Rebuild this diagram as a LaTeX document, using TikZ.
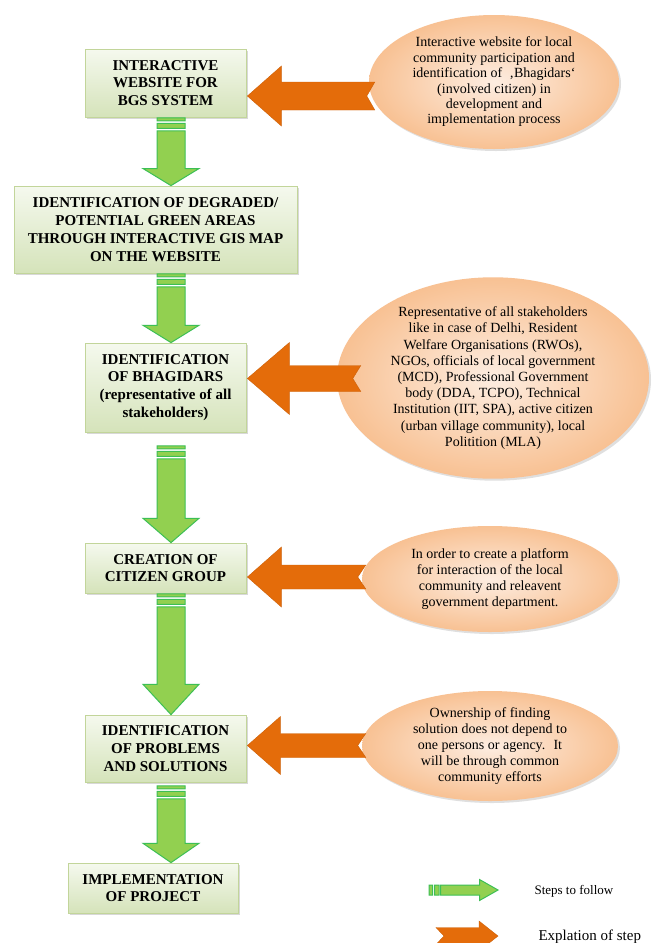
\documentclass[tikz,border=0pt]{standalone}
\usepackage{fontspec}
\setmainfont{Liberation Serif}
\usetikzlibrary{shapes.geometric,shadows,calc}

\definecolor{boxtop}{HTML}{F5F9EE}
\definecolor{boxbot}{HTML}{D5E3BA}
\definecolor{boxline}{HTML}{C2D59A}
\definecolor{stepfill}{HTML}{92D050}
\definecolor{stepline}{HTML}{3CBF55}
\definecolor{explfill}{HTML}{E46C0A}
\definecolor{ovalin}{HTML}{FDEDE1}
\definecolor{ovalout}{HTML}{F8C193}

\tikzset{
  stepbox/.style={rectangle, draw=boxline, line width=0.8pt,
    top color=boxtop, bottom color=boxbot, inner sep=0pt, align=center,
    font=\bfseries\fontsize{15}{17.8}\selectfont,
    drop shadow={shadow xshift=1.5pt, shadow yshift=-1.5pt, opacity=0.3}},
  infooval/.style={ellipse, inner sep=0pt, align=center,
    shading=radial, inner color=ovalin, outer color=ovalout,
    font=\fontsize{14}{16}\selectfont,
    drop shadow={shadow xshift=2pt, shadow yshift=-2pt, opacity=0.25}},
  stepshape/.style={fill=stepfill, draw=stepline, line width=1pt, line join=miter},
  explshape/.style={fill=explfill, draw=explfill!90!black, line width=0.4pt, line join=miter},
  legendtext/.style={anchor=west, font=\fontsize{13}{15}\selectfont}
}

% vertical step arrow with two stripes at its tail: #1 start (top), #2 tip
\newcommand\steparrow[2]{%
  \draw[stepshape] let \p1=(#1), \p2=(#2), \n1={0.25*(\y1-\y2)} in
    ({\x1-14pt},{\y1-0.5pt}) rectangle ({\x1+14pt},{\y1-3.5pt})
    ({\x1-14pt},{\y1-6pt}) rectangle ({\x1+14pt},{\y1-11pt})
    ({\x1-14pt},{\y1-13.5pt}) -- ({\x1-14pt},{\y2+\n1*1pt})
    -- ({\x1-28pt},{\y2+\n1*1pt}) -- (\x1,\y2)
    -- ({\x1+28pt},{\y2+\n1*1pt}) -- ({\x1+14pt},{\y2+\n1*1pt})
    -- ({\x1+14pt},{\y1-13.5pt}) -- cycle;}

% notched block arrow: #1 tail, #2 tip, #3 head half height,
% #4 shaft half height, #5 head length
\newcommand\explarrow[5]{%
  \draw[explshape] let \p1=(#1), \p2=(#2), \n1={(\x2-\x1)/abs(\x2-\x1)} in
    (\x1,{\y2+#4pt}) -- ({\x2-\n1*#5pt},{\y2+#4pt})
    -- ({\x2-\n1*#5pt},{\y2+#3pt}) -- (\x2,\y2)
    -- ({\x2-\n1*#5pt},{\y2-#3pt}) -- ({\x2-\n1*#5pt},{\y2-#4pt})
    -- (\x1,{\y2-#4pt}) -- ({\x1+\n1*8pt},\y2) -- cycle;}

\begin{document}
\begin{tikzpicture}[x=1pt,y=-1pt]
\useasboundingbox (0,0) rectangle (651,943);
\fill[white] (0,0) rectangle (651,943);

\coordinate (col) at (171,0);

% steps
\node[stepbox, minimum width=161, minimum height=68] (b1) at (165.5,83)
  {INTERACTIVE\\WEBSITE FOR\\BGS SYSTEM};
\node[stepbox, minimum width=283, minimum height=87] (b2) at (155.5,229.5)
  {IDENTIFICATION OF DEGRADED/\\POTENTIAL GREEN AREAS\\THROUGH INTERACTIVE GIS MAP\\ON THE WEBSITE};
\node[stepbox, minimum width=161, minimum height=89] (b3) at (165.5,387.5)
  {IDENTIFICATION\\OF BHAGIDARS\\(representative of all\\stakeholders)};
\node[stepbox, minimum width=161, minimum height=50] (b4) at (165.5,568)
  {CREATION OF\\CITIZEN GROUP};
\node[stepbox, minimum width=161, minimum height=67] (b5) at (165.5,748.5)
  {IDENTIFICATION\\OF PROBLEMS\\AND SOLUTIONS};
\node[stepbox, minimum width=170, minimum height=50] (b6) at (153,888)
  {IMPLEMENTATION\\OF PROJECT};

% explanations
\node[infooval, minimum width=250, minimum height=134,
      font=\fontsize{14}{15.4}\selectfont] (e1) at (494,82)
  {Interactive website for local\\community participation and\\identification of \ ‚Bhagidars‘\\(involved citizen) in\\development and\\implementation process};
\node[infooval, minimum width=312, minimum height=186,
      font=\fontsize{14}{16.2}\selectfont] (e2) at (493,378)
  {Representative of all stakeholders\\like in case of Delhi, Resident\\Welfare Organisations (RWOs),\\NGOs, officials of local government\\(MCD), Professional Government\\body (DDA, TCPO), Technical\\Institution (IIT, SPA), active citizen\\(urban village community), local\\Politition (MLA)};
\node[infooval, minimum width=256, minimum height=106] (e3) at (490,579)
  {In order to create a platform\\for interaction of the local\\community and releavent\\government department.};
\node[infooval, minimum width=256, minimum height=110] (e4) at (490,746)
  {Ownership of finding\\solution does not depend to\\one persons or agency. \ It\\will be through common\\community efforts};

% step arrows
\steparrow{b1.south -| col}{b2.north -| col}
\steparrow{b2.south -| col}{b3.north -| col}
\steparrow{$(b3.south -| col)+(0,13)$}{b4.north -| col}
\steparrow{b4.south -| col}{b5.north -| col}
\steparrow{$(b5.south -| col)+(0,3)$}{b6.north -| col}

% explanation arrows
\explarrow{$(e1.west)+(6,0)$}{$(b1.east)+(1,13)$}{30}{14}{34}
\explarrow{$(e2.west)+(24,0)$}{$(b3.east)+(1,-9)$}{36}{13}{42}
\explarrow{$(e3.west)+(4,0)$}{$(b4.east)+(1,9)$}{30}{12}{34}
\explarrow{$(e4.west)+(4,0)$}{$(b5.east)+(1,-3)$}{29}{12}{33}

% legend
\coordinate (lg1) at (429,890);
\coordinate (lg2) at (436,936);
\draw[stepshape] (lg1) ++(0,-5) rectangle ++(3.5,10)
  ($(lg1)+(5.5,-5)$) rectangle ++(4.5,10)
  ($(lg1)+(11.5,-5)$) -- ++(39,0) -- ++(0,-5.5) -- ++(18.5,10.5)
  -- ++(-18.5,10.5) -- ++(0,-5.5) -- ++(-39,0) -- cycle;
\explarrow{lg2}{$(lg2)+(62,0)$}{15}{8.5}{19}
\node[legendtext] (l1) at (531,891) {Steps to follow};
\node[legendtext, font=\fontsize{15}{17}\selectfont] (l2) at (535,936.5) {Explation of step};
\end{tikzpicture}
\end{document}
